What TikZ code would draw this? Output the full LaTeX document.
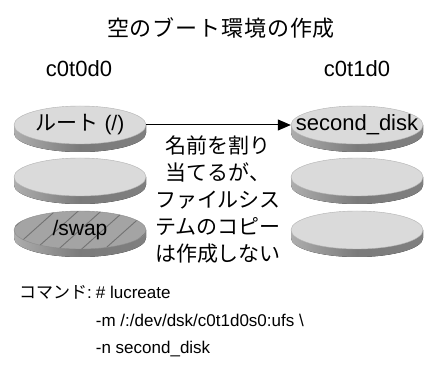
\documentclass[tikz,border=0pt]{standalone}
\usepackage{fontspec}
\setmainfont{Liberation Sans}
\newfontfamily\cjk{Noto Sans CJK JP}
\newfontfamily\cjktitle{Noto Sans CJK JP}[LetterSpace=4]
\usetikzlibrary{shapes.geometric,arrows.meta}
\definecolor{disktopc}{HTML}{DADADA}
\definecolor{swaptopc}{HTML}{A4A4A4}
\definecolor{hatchc}{HTML}{727272}
\tikzset{
  rimshade/.style={left color=black!32, right color=black!50, middle color=black!52},
  disktop/.style={ellipse, fill=disktopc, draw=black!30, line width=0.4pt,
    minimum width=132pt, minimum height=38pt, inner sep=0pt, font=\fontsize{21}{24}\selectfont},
  swaptop/.style={disktop, fill=swaptopc, draw=black!45,
    path picture={\foreach \i in {-4,...,4}
      \draw[hatchc, line width=0.9pt]
        ([xshift=\i*23pt-38pt, yshift=-34pt]path picture bounding box.center) -- ++(76pt,68pt);}},
  disklabel/.style={font=\fontsize{22}{24}\selectfont},
  arrowline/.style={line width=1pt, -{Triangle[length=13pt,width=11pt]}},
  note/.style={align=center, font=\fontsize{21}{27}\selectfont\cjk},
}
\newcommand\mkdisk[5]{%
  \fill[rimshade] (#1-66,#2) -- (#1-66,#2+8)
    arc[start angle=180, end angle=0, x radius=66, y radius=19] -- (#1+66,#2) -- cycle;
  \node[#4] (#3) at (#1,#2) {\makebox[0pt][c]{#5}};
}
\begin{document}
\begin{tikzpicture}[x=1pt,y=-1pt]
\useasboundingbox[fill=white] (0,0) rectangle (424,366);
\node[font=\fontsize{22}{24}\selectfont\cjktitle] (title) at (221,28) {空のブート環境の作成};
\node[disklabel] (lab0) at (79,69) {c0t0d0};
\node[disklabel] (lab1) at (357,69) {c0t1d0};
% left disks
\mkdisk{80}{230}{L3}{swaptop}{/swap}
\mkdisk{80}{177}{L2}{disktop}{}
\mkdisk{80}{125}{L1}{disktop}{{\cjk ルート} (/)}
% right disks
\mkdisk{357}{230}{R3}{disktop}{}
\mkdisk{357}{177}{R2}{disktop}{}
\mkdisk{357}{125}{R1}{disktop,font=\fontsize{22}{24}\selectfont}{second\_disk}
\draw[arrowline] (L1.east) -- (R1.west);
\node[note] (note) at (218,200) {名前を割り\\当てるが、\\ファイルシス\\テムのコピー\\は作成しない};
\node[anchor=base west, inner sep=0pt, font=\fontsize{17}{27.5}\selectfont] (cmd) at (19,299)
  {\begin{tabular}[t]{@{}r@{\hspace{4pt}}l@{}}
   {\cjk コマンド}: & \# lucreate\\
   & -m /:/dev/dsk/c0t1d0s0:ufs \textbackslash\\
   & -n second\_disk
   \end{tabular}};
\end{tikzpicture}
\end{document}
